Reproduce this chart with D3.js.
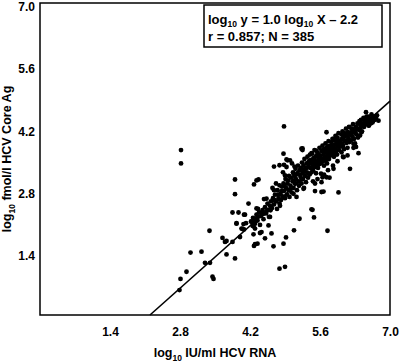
<!DOCTYPE html>
<html>
<head>
<meta charset="utf-8">
<script src="https://cdn.jsdelivr.net/npm/d3@7"></script>
<style>
  body { margin: 0; background: #fff; }
  svg { display: block; font-family: "Liberation Sans", Arial, sans-serif; font-weight: bold; }
</style>
</head>
<body>
<svg width="400" height="361"></svg>
<script>
const svg = d3.select('svg')
const width = +svg.attr('width')
const height = +svg.attr('height')
const margin = {top: 3, right: 10, bottom: 46, left: 40}

const xTicks = [1.4, 2.8, 4.2, 5.6, 7.0]
const yTicks = [1.4, 2.8, 4.2, 5.6, 7.0]
const fitSlope = 1.0
const fitIntercept = -2.2
const fitLines = ['log10 y = 1.0 log10 X \u2013 2.2', 'r = 0.857; N = 385']

// log10 IU/ml RNA, log10 fmol/l core Ag -- scattered points
const outliers = [
  [2.82,3.70],[2.82,3.40],[2.79,0.56],[2.81,0.81],[2.93,0.97],[3.01,1.40],[3.23,1.42],
  [3.30,1.17],[3.40,1.17],[3.45,0.86],[3.47,0.81],[3.39,1.89],[3.65,1.73],[3.73,1.66],
  [3.73,1.36],[3.90,1.27],[3.85,2.30],[3.97,2.30],[3.90,3.04],[3.90,2.71],[3.93,2.06],
  [4.10,2.25],[4.12,2.06],[4.17,2.50],[4.05,1.93],[4.33,3.02],[4.28,2.93],[4.27,1.81],
  [4.28,1.55],[4.30,1.59],[4.40,1.84],[4.50,1.72],[4.67,1.54],[4.79,1.04],[4.90,1.08],
  [4.87,1.60],[4.92,1.74],[4.88,4.23],[4.87,3.62],[5.08,1.90],[5.19,2.16],[5.45,2.36],
  [5.48,2.19],[5.75,1.89],[5.67,2.77],[5.97,2.75],[6.20,3.28],[6.37,3.63],[6.32,3.77],
  [6.52,4.55],[6.70,4.40],[6.19,4.21],[5.25,3.74],[5.25,3.70],[5.65,3.09],[5.79,3.08],
  [4.95,3.47],[4.93,3.32],[4.68,3.33],[5.09,3.33],[4.08,2.25],[3.93,2.05],[4.07,2.04],
  [4.23,2.09],[4.35,2.20],[3.85,1.64],[4.00,1.75],[4.08,1.92],[4.30,1.94],[4.35,1.60],
  [4.03,1.94],[3.70,1.64],[4.43,1.86],[4.63,1.83],[4.57,2.01],[4.27,1.99],[4.30,2.09],
  [4.93,3.49],[5.00,3.47],[4.79,3.36],[4.88,3.37],[4.37,3.04],[5.07,3.17],[5.50,2.95],
  [5.50,2.78],[5.63,2.76],[5.62,3.17],[5.73,3.09],[5.43,2.37],[5.43,3.63],[5.52,3.69],
  [5.73,4.10],[5.23,3.73],[6.40,4.03],[5.87,3.95],[5.93,3.91],[6.03,3.65],[6.65,4.32],
  [6.77,4.36],[6.70,4.44],[6.57,4.25],[4.47,2.27],[4.60,2.20],[4.33,2.39],[4.53,2.61],
  [4.68,2.80],[4.79,2.91],[4.90,3.13],[5.07,2.72],[5.27,2.83],[5.40,3.17],[5.63,2.98],
  [5.87,3.28],[6.07,3.54],[6.27,3.84],[6.43,4.10],[6.33,4.18]
]

// the dense band along the fitted line
const cluster = [
  [4.22,2.10],[4.26,2.18],[4.30,2.05],[4.33,2.25],[4.35,2.12],[4.38,2.30],[4.40,2.02],[4.36,2.38],
  [4.42,2.22],[4.45,2.35],[4.47,2.15],[4.50,2.42],[4.52,2.28],[4.55,2.50],[4.57,2.36],[4.58,2.20],
  [4.60,2.45],[4.48,2.60],[4.62,2.55],[4.64,2.40],[4.66,2.62],[4.68,2.48],[4.70,2.70],[4.72,2.55],
  [4.74,2.38],[4.75,2.80],[4.77,2.62],[4.79,2.50],[4.65,2.85],[4.72,2.95],[4.81,2.72],[4.82,2.58],
  [4.84,2.88],[4.85,2.66],[4.87,2.95],[4.88,2.78],[4.90,2.62],[4.91,3.05],[4.92,2.85],[4.94,2.70],
  [4.95,2.95],[4.97,2.80],[4.98,3.12],[4.99,2.65],[4.86,3.20],[4.80,2.45],[5.01,2.90],[5.02,3.08],
  [5.03,2.75],[5.05,3.00],[5.06,3.20],[5.07,2.85],[5.09,3.12],[5.10,2.95],[5.11,3.28],[5.12,3.05],
  [5.14,2.80],[5.15,3.18],[5.16,3.35],[5.17,3.00],[5.18,2.90],[5.19,3.25],[5.04,3.40],[5.13,2.65],
  [5.21,3.10],[5.22,3.30],[5.23,2.95],[5.24,3.42],[5.25,3.18],[5.26,3.05],[5.27,3.35],[5.28,3.22],
  [5.29,3.50],[5.30,3.12],[5.31,3.28],[5.32,2.98],[5.33,3.40],[5.34,3.20],[5.35,3.55],[5.36,3.08],
  [5.37,3.32],[5.38,3.45],[5.39,3.15],[5.40,3.60],[5.28,2.85],[5.41,3.30],[5.42,3.48],[5.43,3.20],
  [5.44,3.62],[5.45,3.38],[5.46,3.25],[5.47,3.52],[5.48,3.40],[5.49,3.70],[5.50,3.32],[5.51,3.45],
  [5.52,3.18],[5.53,3.58],[5.54,3.42],[5.55,3.65],[5.56,3.30],[5.57,3.50],[5.58,3.38],[5.59,3.75],
  [5.60,3.46],[5.46,3.00],[5.55,3.05],[5.61,3.55],[5.62,3.40],[5.63,3.68],[5.64,3.50],[5.65,3.80],
  [5.66,3.45],[5.67,3.60],[5.68,3.35],[5.69,3.72],[5.70,3.55],[5.71,3.85],[5.72,3.48],[5.73,3.65],
  [5.74,3.40],[5.75,3.78],[5.76,3.58],[5.77,3.90],[5.78,3.50],[5.79,3.70],[5.80,3.62],[5.68,3.15],
  [5.76,3.25],[5.81,3.75],[5.82,3.58],[5.83,3.88],[5.84,3.68],[5.85,3.95],[5.86,3.62],[5.87,3.80],
  [5.88,3.55],[5.89,3.92],[5.90,3.72],[5.91,4.02],[5.92,3.66],[5.93,3.85],[5.94,3.60],[5.95,3.98],
  [5.96,3.78],[5.97,4.08],[5.98,3.70],[5.99,3.88],[5.86,3.35],[5.95,3.45],[6.01,3.92],[6.02,3.78],
  [6.03,4.05],[6.04,3.85],[6.05,4.12],[6.06,3.80],[6.07,3.98],[6.08,3.72],[6.09,4.08],[6.10,3.90],
  [6.12,4.18],[6.13,3.86],[6.14,4.02],[6.15,3.75],[6.16,4.10],[6.17,3.95],[6.18,4.22],[6.19,3.88],
  [6.06,3.55],[6.15,3.58],[6.21,4.05],[6.22,3.92],[6.24,4.18],[6.25,4.00],[6.26,4.28],[6.28,3.95],
  [6.29,4.12],[6.30,3.85],[6.32,4.22],[6.33,4.05],[6.35,4.30],[6.36,3.98],[6.38,4.15],[6.39,4.35],
  [6.27,3.75],[6.41,4.20],[6.42,4.38],[6.44,4.12],[6.45,4.30],[6.47,4.42],[6.48,4.22],[6.50,4.35],
  [6.52,4.28],[6.53,4.45],[6.55,4.32],[6.57,4.40],[6.58,4.25],[6.60,4.38],[6.62,4.30],[6.64,4.42],
  [6.66,4.35],[6.68,4.45],[6.70,4.38],[6.72,4.42],[6.74,4.48],[6.63,4.50],
  [4.25,2.00],[4.31,2.15],[4.44,2.28],[4.53,2.33],[4.61,2.35],[4.69,2.58],[4.76,2.70],[4.83,2.78],
  [4.89,2.90],[4.96,3.02],[5.00,2.82],[5.08,3.02],[5.13,3.15],[5.20,3.15],[5.23,3.05],[5.27,3.25],
  [5.33,3.30],[5.36,3.40],[5.41,3.40],[5.44,3.30],[5.47,3.45],[5.51,3.55],[5.54,3.35],[5.57,3.60],
  [5.60,3.58],[5.63,3.45],[5.66,3.70],[5.70,3.65],[5.73,3.75],[5.77,3.68],[5.80,3.80],[5.84,3.78],
  [5.87,3.70],[5.90,3.82],[5.93,3.95],[5.97,3.90],[6.00,3.82],[6.04,3.95],[6.08,4.00],[6.11,4.05],
  [6.14,3.92],[6.18,4.05],[6.23,4.10],[6.27,4.15],[6.31,4.08],[6.35,4.18],[6.40,4.28],[6.46,4.25],
  [6.51,4.38],[6.56,4.45]
]

const x = d3.scaleLinear().domain([0, 7]).range([margin.left, width - margin.right])
const y = d3.scaleLinear().domain([0, 7]).range([height - margin.bottom, margin.top])

const plot = svg.append('g')

// axes: labels only, no tick marks
const xAxis = svg.append('g')
  .attr('transform', `translate(0,${height - margin.bottom})`)
  .call(d3.axisBottom(x).tickValues(xTicks).tickFormat(d3.format('.1f')).tickSize(0).tickPadding(12))
const yAxis = svg.append('g')
  .attr('transform', `translate(${margin.left},0)`)
  .call(d3.axisLeft(y).tickValues(yTicks).tickFormat(d3.format('.1f')).tickSize(0).tickPadding(5))
svg.selectAll('.domain').remove()
svg.selectAll('.tick text')
  .attr('font-family', '"Liberation Sans", Arial, sans-serif')
  .attr('font-weight', 'bold')
  .attr('font-size', 12)
  .attr('fill', '#000')
yAxis.selectAll('.tick text').attr('dy', '0.6em')

// points
plot.selectAll('circle')
  .data(outliers.concat(cluster))
  .join('circle')
    .attr('cx', d => x(d[0]))
    .attr('cy', d => y(d[1]))
    .attr('r', 2.4)
    .attr('fill', '#000')

// fitted line
const x0 = -fitIntercept / fitSlope
plot.append('line')
  .attr('x1', x(x0)).attr('y1', y(0))
  .attr('x2', x(7)).attr('y2', y(fitSlope * 7 + fitIntercept))
  .attr('stroke', '#000')
  .attr('stroke-width', 1.6)

// frame
svg.append('rect')
  .attr('x', margin.left).attr('y', margin.top)
  .attr('width', width - margin.left - margin.right)
  .attr('height', height - margin.top - margin.bottom)
  .attr('fill', 'none')
  .attr('stroke', '#000')
  .attr('stroke-width', 1.5)

// text with a "log10" subscript
function logText(sel, rest, size, sub) {
  sel.append('tspan').text('log')
  sel.append('tspan').text('10').attr('font-size', sub).attr('dy', size * 0.28)
  sel.append('tspan').text(rest).attr('dy', -size * 0.28)
}

// box with the fit
const box = svg.append('g')
box.append('rect')
  .attr('x', 204).attr('y', 5).attr('width', 178).attr('height', 42)
  .attr('fill', '#fff').attr('stroke', '#000').attr('stroke-width', 1.5)
const l1 = box.append('text').attr('x', 208).attr('y', 24).attr('font-size', 13)
l1.append('tspan').text('log')
l1.append('tspan').text('10').attr('font-size', 8.5).attr('dy', 3)
l1.append('tspan').text(' y = 1.0 log').attr('dy', -3)
l1.append('tspan').text('10').attr('font-size', 8.5).attr('dy', 3)
l1.append('tspan').text(' X \u2013 2.2').attr('dy', -3)
box.append('text').attr('x', 208).attr('y', 41).attr('font-size', 13).text(fitLines[1])

// axis titles
const xt = svg.append('text')
  .attr('x', x(3.5)).attr('y', 357)
  .attr('text-anchor', 'middle').attr('font-size', 12.5)
logText(xt, ' IU/ml HCV RNA', 12.5, 8.5)

const yt = svg.append('text')
  .attr('transform', `translate(11,${y(3.5)}) rotate(-90)`)
  .attr('text-anchor', 'middle').attr('font-size', 12.5)
logText(yt, ' fmol/l HCV Core Ag', 12.5, 8.5)
</script>
</body>
</html>
